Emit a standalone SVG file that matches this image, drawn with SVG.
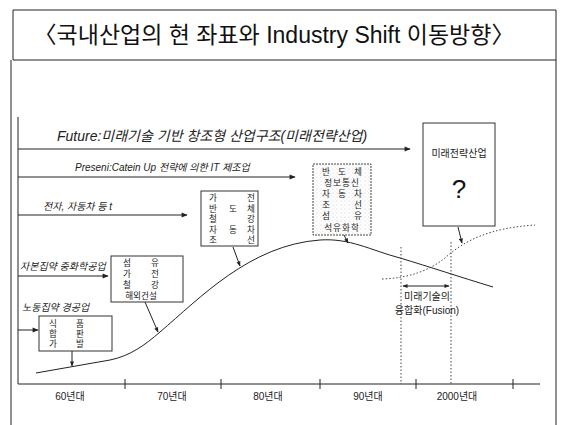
<svg xmlns="http://www.w3.org/2000/svg" width="562" height="425" viewBox="0 0 562 425">
<defs>
<style>
.t{font-family:"Liberation Sans","Noto Sans CJK KR",sans-serif;fill:#111}
.k{font-family:"Liberation Sans","Noto Sans CJK KR",sans-serif;fill:#222;font-size:10px;text-anchor:middle}
.b{font-family:"Liberation Sans","Noto Sans CJK KR",sans-serif;fill:#222;font-size:8.6px;text-anchor:middle}
.i{font-family:"Liberation Sans","Noto Sans CJK KR",sans-serif;font-style:italic;fill:#222}
.ln{stroke:#222;stroke-width:1;fill:none}
.box{stroke:#333;stroke-width:1;fill:#fff}
.dot{stroke:#444;stroke-width:1;fill:none;stroke-dasharray:1.5 2}
</style>
<marker id="ah" viewBox="0 0 10 10" refX="9" refY="5" markerWidth="8" markerHeight="6" orient="auto" markerUnits="userSpaceOnUse">
<path d="M0,1 L10,5 L0,9 z" fill="#222"/>
</marker>
<marker id="as" viewBox="0 0 10 10" refX="9" refY="5" markerWidth="6" markerHeight="5" orient="auto" markerUnits="userSpaceOnUse">
<path d="M0,1 L10,5 L0,9 z" fill="#222"/>
</marker>
<marker id="asr" viewBox="0 0 10 10" refX="1" refY="5" markerWidth="6" markerHeight="5" orient="auto" markerUnits="userSpaceOnUse">
<path d="M10,1 L0,5 L10,9 z" fill="#222"/>
</marker>
<pattern id="stip" width="4" height="4" patternUnits="userSpaceOnUse">
<rect width="4" height="4" fill="#fff"/>
<circle cx="1" cy="1" r="0.5" fill="#bbb"/>
<circle cx="3" cy="3" r="0.4" fill="#ccc"/>
</pattern>
</defs>
<rect width="562" height="425" fill="#fff"/>
<g id="frame">
<path class="ln" d="M13,10 L556,10 L556,425 M13,10 L13,60 L556,60 M11,60 L11,425" stroke="#555"/>
<text class="t" x="274" y="43" font-size="23" text-anchor="middle">〈국내산업의 현 좌표와 Industry Shift 이동방향〉</text>
</g>
<g id="axes">
<path class="ln" d="M18,117 L18,384 L540,384"/>
<path class="ln" d="M125,379 V389 M221,379 V389 M320,379 V389 M416,379 V389 M513,379 V389"/>
<text class="k" x="70" y="400" font-size="10.5">60년대</text>
<text class="k" x="172" y="400" font-size="10.5">70년대</text>
<text class="k" x="268" y="400" font-size="10.5">80년대</text>
<text class="k" x="368" y="400" font-size="10.5">90년대</text>
<text class="k" x="457" y="400" font-size="10.5">2000년대</text>
</g>
<g id="connectors">
<line class="ln" x1="18" y1="149" x2="410" y2="149" marker-end="url(#ah)"/>
<line class="ln" x1="18" y1="177" x2="295" y2="177" marker-end="url(#ah)"/>
<line class="ln" x1="18" y1="215" x2="187" y2="215" marker-end="url(#ah)"/>
<line class="ln" x1="18" y1="276" x2="108" y2="276" marker-end="url(#ah)"/>
<line class="ln" x1="18" y1="330" x2="38" y2="330" marker-end="url(#ah)"/>
<line class="ln" x1="72" y1="351" x2="72" y2="366" marker-end="url(#as)"/>
<line class="ln" x1="145" y1="302" x2="158" y2="332" marker-end="url(#as)"/>
<line class="ln" x1="233" y1="247" x2="240" y2="266" marker-end="url(#as)"/>
<line class="ln" x1="344" y1="235" x2="348" y2="243" marker-end="url(#as)"/>
<line class="ln" x1="458" y1="227" x2="462" y2="243" marker-end="url(#as)"/>
<path class="ln" d="M36,373 L110,360 C130,356 145,345 160,332 C200,298 250,245 320,240 C350,238 370,250 400,258 C430,267 460,277 493,287"/>
<path class="dot" d="M382,279 C410,278 430,270 445,258 C465,240 490,228 535,225"/>
<line class="dot" x1="401" y1="247" x2="401" y2="384"/>
<line class="dot" x1="451" y1="242" x2="451" y2="384"/>
<line class="ln" x1="403" y1="286" x2="449" y2="286" marker-start="url(#asr)" marker-end="url(#as)"/>
</g>
<g id="labels">
<text class="i" x="57" y="141" font-size="14">Future:미래기술 기반 창조형 산업구조(미래전략산업)</text>
<text class="i" x="75" y="171" font-size="10">Preseni:Catein Up 전략에 의한 IT 제조업</text>
<text class="i" x="43" y="210" font-size="10">전자, 자동차 등 t</text>
<text class="i" x="20" y="270" font-size="10">자본집약 중화학공업</text>
<text class="i" x="22" y="311" font-size="10">노동집약 경공업</text>
<text class="k" x="427" y="300" font-size="10.5">미래기술의</text>
<text class="k" x="427" y="314" font-size="10.5">융합화(Fusion)</text>
</g>
<g id="node-60s">
<rect class="box" x="39" y="316" width="73" height="35"/>
<text class="b" x="53 80" y="327">식품</text>
<text class="b" x="53 80" y="337">합판</text>
<text class="b" x="53 80" y="347">가발</text>
</g>
<g id="node-70s">
<rect class="box" x="111" y="256" width="72" height="46"/>
<text class="b" x="127 155" y="266">섬유</text>
<text class="b" x="127 155" y="277">가전</text>
<text class="b" x="127 155" y="288">철강</text>
<text class="b" x="141" y="299">해외건설</text>
</g>
<g id="node-80s">
<rect class="box" x="201" y="191" width="57" height="55"/>
<text class="b" x="213 251" y="201">가전</text>
<text class="b" x="213 233 251" y="212">반도체</text>
<text class="b" x="213 251" y="222">철강</text>
<text class="b" x="213 233 251" y="233">자동차</text>
<text class="b" x="213 251" y="243">조선</text>
</g>
<g id="node-90s">
<rect x="313" y="164" width="58" height="71" fill="url(#stip)" stroke="#444" stroke-dasharray="2 1"/>
<text class="b" x="326 342 358" y="175">반도체</text>
<text class="b" x="342" y="186" letter-spacing="1">정보통신</text>
<text class="b" x="326 342 358" y="197">자동차</text>
<text class="b" x="326 358" y="208">조선</text>
<text class="b" x="326 358" y="219">섬유</text>
<text class="b" x="342" y="231" letter-spacing="1">석유화학</text>
</g>
<g id="node-future">
<rect class="box" x="423" y="123" width="72" height="103"/>
<text class="k" x="459" y="157" font-size="11">미래전략산업</text>
<text class="t" x="459" y="198" font-size="26" text-anchor="middle">?</text>
</g>
</svg>
